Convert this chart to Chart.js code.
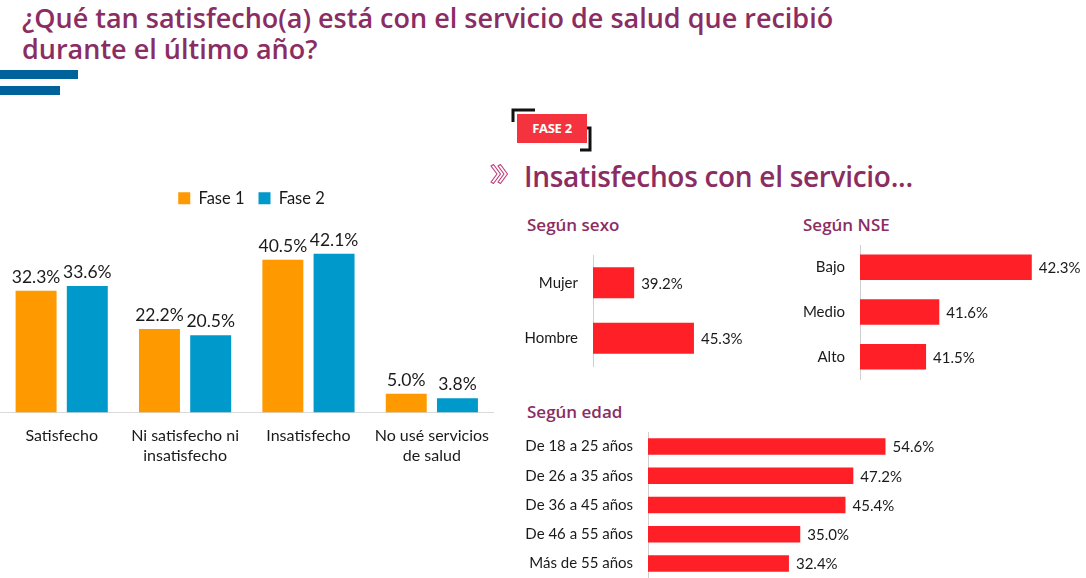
<!DOCTYPE html>
<html>
<head>
<meta charset="utf-8">
<script src="https://cdn.jsdelivr.net/npm/chart.js@4/dist/chart.umd.min.js"></script>
<style>
  body { margin: 0; width: 1086px; height: 578px; background: #fff; position: relative; overflow: hidden; font-family: Lato, sans-serif; }
  .abs { position: absolute; }
  #title { left: 22px; top: 2px; font: 600 27px/31px "Open Sans", sans-serif; color: #8b2d62; }
  .stripe { position: absolute; left: 0; height: 9px; background: #00629a; }
  #badge { left: 517px; top: 114px; width: 70px; height: 29px; background: #f5333f; color: #fff; font: 700 13px/29px "Open Sans", sans-serif; text-align: center; letter-spacing: -0.3px; }
  #heading { left: 524px; top: 156px; font: 600 28px/40px "Open Sans", sans-serif; color: #8b2d62; letter-spacing: -0.3px; }
  .sub { position: absolute; font: 600 17px/24px "Open Sans", sans-serif; color: #8b2d62; }
  canvas { position: absolute; }
</style>
</head>
<body>
<div id="title" class="abs">¿Qué tan satisfecho(a) está con el servicio de salud que recibió<br>durante el último año?</div>
<div class="stripe" style="top:70px;width:78px"></div>
<div class="stripe" style="top:86px;width:60px"></div>

<svg class="abs" style="left:508px;top:106px" width="90" height="50">
  <polyline points="5,16 5,4 27,4" fill="none" stroke="#111" stroke-width="3"/>
  <polyline points="72,22 82,22 82,44 72,44" fill="none" stroke="#111" stroke-width="3"/>
</svg>
<div id="badge" class="abs">FASE 2</div>

<svg class="abs" style="left:488px;top:163px" width="22" height="22">
  <path d="M3,3 L9,11 L3,19 L5.5,20.5 L12.5,11 L5.5,1.5 Z" fill="none" stroke="#c0407e" stroke-width="1.2" stroke-linejoin="round"/>
  <path d="M10,3 L16,11 L10,19 L12.5,20.5 L19.5,11 L12.5,1.5 Z" fill="none" stroke="#c0407e" stroke-width="1.2" stroke-linejoin="round"/>
</svg>
<div id="heading" class="abs">Insatisfechos con el servicio...</div>

<div class="sub" style="left:527px;top:213px">Según sexo</div>
<div class="sub" style="left:803px;top:213px">Según NSE</div>
<div class="sub" style="left:527px;top:400px">Según edad</div>

<canvas id="mainChart" width="503" height="303" style="left:0;top:176px"></canvas>
<canvas id="sexChart" width="260" height="159" style="left:510px;top:231px"></canvas>
<canvas id="nseChart" width="316" height="182" style="left:770px;top:221px"></canvas>
<canvas id="ageChart" width="460" height="194" style="left:510px;top:408px"></canvas>

<script>
// datos
const categories = ['Satisfecho', ['Ni satisfecho ni', 'insatisfecho'], 'Insatisfecho', ['No usé servicios', 'de salud']];
const fase1 = [32.3, 22.2, 40.5, 5.0];
const fase2 = [33.6, 20.5, 42.1, 3.8];

const sexLabels = ['Mujer', 'Hombre'];
const sexValues = [39.2, 45.3];

const nseLabels = ['Bajo', 'Medio', 'Alto'];
const nseValues = [42.3, 41.6, 41.5];

const ageLabels = ['De 18 a 25 años', 'De 26 a 35 años', 'De 36 a 45 años', 'De 46 a 55 años', 'Más de 55 años'];
const ageValues = [54.6, 47.2, 45.4, 35.0, 32.4];

const TEXT = '#1a1a1a';
const RED = '#ff1f26';

// etiquetas de valor encima / al lado de cada barra
const valueLabels = {
  id: 'valueLabels',
  afterDatasetsDraw(chart, args, opts) {
    const { ctx } = chart;
    ctx.save();
    ctx.font = opts.font;
    ctx.fillStyle = TEXT;
    chart.data.datasets.forEach((ds, i) => {
      chart.getDatasetMeta(i).data.forEach((bar, j) => {
        const txt = ds.data[j].toFixed(1) + '%';
        if (chart.options.indexAxis === 'y') {
          ctx.textAlign = 'left';
          ctx.textBaseline = 'middle';
          ctx.fillText(txt, bar.x + opts.offset, bar.y + 1);
        } else {
          ctx.textAlign = 'center';
          ctx.textBaseline = 'bottom';
          ctx.fillText(txt, bar.x, bar.y - opts.offset);
        }
      });
    });
    ctx.restore();
  }
};

Chart.defaults.font.family = 'Lato, sans-serif';
Chart.defaults.color = TEXT;

new Chart(document.getElementById('mainChart'), {
  type: 'bar',
  data: {
    labels: categories,
    datasets: [
      { label: 'Fase 1', data: fase1, backgroundColor: '#ff9900' },
      { label: 'Fase 2', data: fase2, backgroundColor: '#0099cc' }
    ]
  },
  options: {
    responsive: false,
    animation: false,
    categoryPercentage: 0.83,
    barPercentage: 0.8,
    layout: { padding: { top: 0, bottom: 0 } },
    plugins: {
      legend: {
        labels: { font: { size: 16.5 }, boxWidth: 12, boxHeight: 12, padding: 14, color: TEXT }
      },
      tooltip: { enabled: false },
      valueLabels: { font: '17.5px Lato, sans-serif', offset: 5 }
    },
    scales: {
      x: {
        grid: { display: false, drawTicks: false },
        border: { color: '#d9d9d9' },
        ticks: { font: { size: 16 }, padding: 14, color: TEXT, maxRotation: 0, minRotation: 0, autoSkip: false }
      },
      y: { display: false, min: 0, max: 52 }
    }
  },
  plugins: [valueLabels]
});

// las etiquetas del eje y suman su padding arriba y abajo: el lienzo es más alto para compensar
function hbar(id, labels, values, min, max, axisWidth, padRight, barPct) {
  return new Chart(document.getElementById(id), {
    type: 'bar',
    data: {
      labels: labels,
      datasets: [{ data: values, backgroundColor: RED, base: min }]
    },
    options: {
      indexAxis: 'y',
      responsive: false,
      animation: false,
      categoryPercentage: 1,
      barPercentage: barPct,
      layout: { padding: { right: padRight, top: 0, bottom: 0 } },
      plugins: {
        legend: { display: false },
        tooltip: { enabled: false },
        valueLabels: { font: '15px Lato, sans-serif', offset: 7 }
      },
      scales: {
        x: { display: false, min: min, max: max },
        y: {
          grid: { display: false, drawTicks: false },
          border: { color: '#d0d0d0' },
          ticks: { font: { size: 15 }, padding: 15, color: TEXT },
          afterFit(scale) { scale.width = axisWidth; }
        }
      }
    },
    plugins: [valueLabels]
  });
}

hbar('sexChart', sexLabels, sexValues, 35, 50, 83, 30, 0.56);
hbar('nseChart', nseLabels, nseValues, 41, 42.4, 90, 41, 0.57);
hbar('ageChart', ageLabels, ageValues, 0, 60, 138, 61, 0.565);
</script>
</body>
</html>
